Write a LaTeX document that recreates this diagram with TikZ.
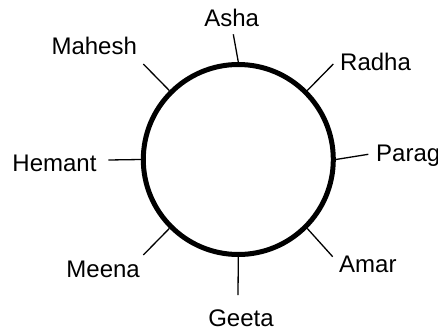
\documentclass[tikz,border=0pt]{standalone}
\usepackage{fontspec}
\setmainfont{Liberation Sans}
\usepackage{tikz}
\usetikzlibrary{positioning}

\begin{document}
\begin{tikzpicture}[x=1pt, y=1pt, font=\fontsize{24}{28}\selectfont,
    ring/.style={draw, circle, line width=5pt, minimum size=190pt, inner sep=0pt},
    tick/.style={line width=1.3pt},
    lbl/.style={inner sep=0pt}]
    \useasboundingbox (0,0) rectangle (438,333);
    \node[ring] (r) at (238.3,173.5) {};
    \coordinate (ta) at (233.3,298.7);
    \coordinate (tr) at (333.3,269);
    \coordinate (tp) at (368.3,178.7);
    \coordinate (tam) at (332.7,76.3);
    \coordinate (tg) at (238,38);
    \coordinate (tme) at (143.3,78);
    \coordinate (th) at (108.3,173);
    \coordinate (tma) at (143.3,269);
    \draw[tick] (r.90)--(ta); \draw[tick] (r.45)--(tr);
    \draw[tick] (r.0)--(tp); \draw[tick] (r.-45)--(tam);
    \draw[tick] (r.-90)--(tg); \draw[tick] (r.-135)--(tme);
    \draw[tick] (r.180)--(th); \draw[tick] (r.135)--(tma);
    \node[lbl, anchor=base] (asha) at (231.7,306.3) {Asha};
    \node[lbl, anchor=base] (mahesh) at (94.2,279) {Mahesh};
    \node[lbl, anchor=base west] (radha) at (340,263) {Radha};
    \node[lbl, anchor=base west] (parag) at (376,171.3) {Parag};
    \node[lbl, anchor=base east] (hemant) at (96.7,162) {Hemant};
    \node[lbl, anchor=base east] (meena) at (140,55.3) {Meena};
    \node[lbl, anchor=base west] (amar) at (339,60.3) {Amar};
    \node[lbl, anchor=base] (geeta) at (241,7) {Geeta};
\end{tikzpicture}
\end{document}
